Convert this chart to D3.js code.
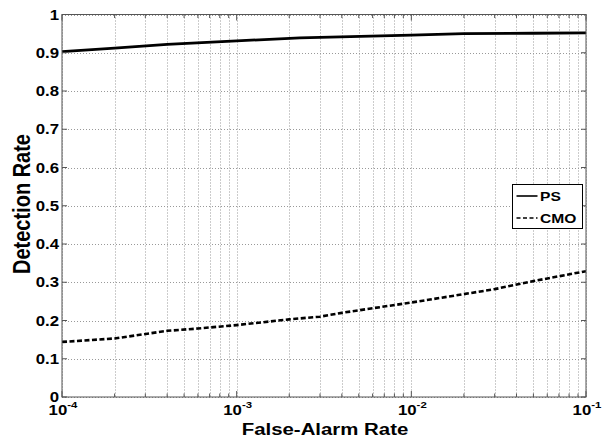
<!DOCTYPE html>
<html>
<head>
<meta charset="utf-8">
<script src="https://cdn.jsdelivr.net/npm/d3@7"></script>
<style>
  body { margin: 0; background: #fff; }
  text { font-family: Arial, "Liberation Sans", Helvetica, sans-serif; font-weight: bold; fill: #000; }
</style>
</head>
<body>
<div id="chart"></div>
<script>
// ROC curves
const psFar = [1e-4, 2e-4, 4e-4, 1e-3, 2.3e-3, 1e-2, 2e-2, 5e-2, 1e-1];
const psRate = [0.903, 0.912, 0.922, 0.931, 0.939, 0.946, 0.950, 0.951, 0.952];

const cmoFar = [1e-4, 2e-4, 4e-4, 6e-4, 1e-3, 2e-3, 3e-3, 4e-3, 6e-3, 1e-2, 2e-2, 3e-2, 5e-2, 1e-1];
const cmoRate = [0.144, 0.153, 0.173, 0.179, 0.188, 0.203, 0.210, 0.220, 0.232, 0.247, 0.269, 0.282, 0.303, 0.329];

const yTicks = [0, 0.1, 0.2, 0.3, 0.4, 0.5, 0.6, 0.7, 0.8, 0.9, 1];
const xDecades = [-4, -3, -2, -1];
const seriesNames = ['PS', 'CMO'];

const width = 605, height = 443;
const margin = {top: 14.5, right: 19, bottom: 46, left: 62};
const sx = 1.2; // the picture is a bit stretched sideways

const svg = d3.select('#chart').append('svg')
  .attr('width', width)
  .attr('height', height);

const x = d3.scaleLog()
  .domain([1e-4, 1e-1])
  .range([margin.left, width - margin.right]);

const y = d3.scaleLinear()
  .domain([0, 1])
  .range([height - margin.bottom, margin.top]);

// minor ticks 2..9 inside each decade
let minor = [];
xDecades.slice(0, -1).forEach(e => {
  for (let m = 2; m <= 9; m++) minor.push(m * Math.pow(10, e));
});
const major = xDecades.map(e => Math.pow(10, e));

// grid
let grid = svg.append('g')
  .attr('stroke', '#999')
  .attr('stroke-width', 1)
  .attr('stroke-dasharray', '1,2');

grid.selectAll('.gx')
  .data(major.concat(minor))
  .enter().append('line')
    .attr('x1', d => Math.round(x(d)) + 0.5)
    .attr('x2', d => Math.round(x(d)) + 0.5)
    .attr('y1', y(1))
    .attr('y2', y(0));

grid.selectAll('.gy')
  .data(yTicks)
  .enter().append('line')
    .attr('x1', x(1e-4))
    .attr('x2', x(1e-1))
    .attr('y1', d => Math.round(y(d)) + 0.5)
    .attr('y2', d => Math.round(y(d)) + 0.5);

// curves
let line = d3.line()
  .x(d => x(d[0]))
  .y(d => y(d[1]));

svg.append('path')
  .datum(psFar.map((f, i) => [f, psRate[i]]))
  .attr('d', line)
  .attr('fill', 'none')
  .attr('stroke', '#000')
  .attr('stroke-width', 2.8);

svg.append('path')
  .datum(cmoFar.map((f, i) => [f, cmoRate[i]]))
  .attr('d', line)
  .attr('fill', 'none')
  .attr('stroke', '#000')
  .attr('stroke-width', 2.6)
  .attr('stroke-dasharray', '5,2.5');

// frame and ticks
let axes = svg.append('g')
  .attr('stroke', '#555')
  .attr('stroke-width', 1);

axes.append('rect')
  .attr('x', x(1e-4))
  .attr('y', y(1))
  .attr('width', x(1e-1) - x(1e-4))
  .attr('height', y(0) - y(1))
  .attr('fill', 'none');

const yInner = [[x(1e-4), 5], [x(1e-1), -5]];
yInner.forEach(([x0, len]) => {
  axes.selectAll(null)
    .data(yTicks)
    .enter().append('line')
      .attr('x1', x0)
      .attr('x2', x0 + len)
      .attr('y1', d => y(d))
      .attr('y2', d => y(d));
});

const xInner = [[y(0), -1], [y(1), 1]];
xInner.forEach(([y0, dir]) => {
  axes.selectAll(null)
    .data(major)
    .enter().append('line')
      .attr('x1', d => x(d))
      .attr('x2', d => x(d))
      .attr('y1', y0)
      .attr('y2', y0 + dir * 6);
  axes.selectAll(null)
    .data(minor)
    .enter().append('line')
      .attr('x1', d => x(d))
      .attr('x2', d => x(d))
      .attr('y1', y0)
      .attr('y2', y0 + dir * 3.5);
});

// y tick labels
svg.append('g')
  .selectAll('text')
  .data(yTicks)
  .enter().append('text')
    .attr('transform', d => 'translate(' + (x(1e-4) - 3) + ',' + (y(d) + 5) + ') scale(' + sx + ',1)')
    .attr('text-anchor', 'end')
    .attr('font-size', 14)
    .text(d => d3.format('~g')(d));

// x tick labels, 10 with superscript exponent
let xl = svg.append('g')
  .selectAll('text')
  .data(xDecades)
  .enter().append('text')
    .attr('transform', d => 'translate(' + (x(Math.pow(10, d)) + 1) + ',' + (height - margin.bottom + 18) + ') scale(' + sx + ',1)')
    .attr('text-anchor', 'middle')
    .attr('font-size', 14);
xl.append('tspan').text('10');
xl.append('tspan')
  .attr('font-size', 9.5)
  .attr('dy', -7)
  .text(d => '-' + Math.abs(d));

// axis titles
svg.append('text')
  .attr('transform', 'translate(' + ((x(1e-4) + x(1e-1)) / 2 + 1) + ',434.5) scale(' + sx + ',1)')
  .attr('text-anchor', 'middle')
  .attr('font-size', 17)
  .text('False-Alarm Rate');

svg.append('text')
  .attr('transform', 'translate(29.5,204) scale(' + sx + ',1) rotate(-90)')
  .attr('text-anchor', 'middle')
  .attr('font-size', 20)
  .text('Detection Rate');

// legend
let legend = svg.append('g').attr('transform', 'translate(512.5,184.5)');

legend.append('rect')
  .attr('width', 70)
  .attr('height', 44)
  .attr('fill', '#fff')
  .attr('stroke', '#000')
  .attr('stroke-width', 1);

let items = legend.selectAll('.item')
  .data(seriesNames)
  .enter().append('g')
    .attr('transform', (d, i) => 'translate(0,' + (11.5 + i * 22) + ')');

items.append('line')
  .attr('x1', 4)
  .attr('x2', 25)
  .attr('stroke', '#000')
  .attr('stroke-width', 1.6)
  .attr('stroke-dasharray', (d, i) => i === 0 ? null : '4,2.5');

items.append('text')
  .attr('transform', 'translate(27.5,5) scale(' + sx + ',1)')
  .attr('font-size', 13)
  .text(d => d);
</script>
</body>
</html>
